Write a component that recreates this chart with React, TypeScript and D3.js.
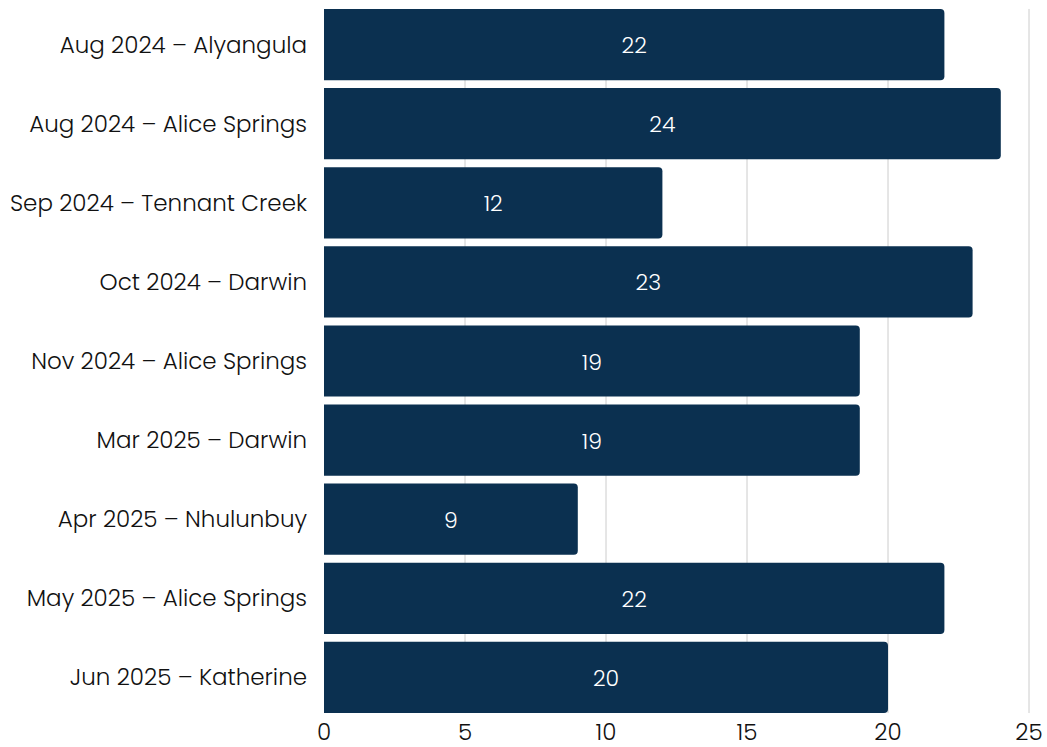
import React from "react";
import * as d3 from "d3";

const categories = [
  "Aug 2024 – Alyangula",
  "Aug 2024 – Alice Springs",
  "Sep 2024 – Tennant Creek",
  "Oct 2024 – Darwin",
  "Nov 2024 – Alice Springs",
  "Mar 2025 – Darwin",
  "Apr 2025 – Nhulunbuy",
  "May 2025 – Alice Springs",
  "Jun 2025 – Katherine",
];
const values = [22, 24, 12, 23, 19, 19, 9, 22, 20];
const xTicks = [0, 5, 10, 15, 20, 25];

const W = 1047;
const H = 747;
const FONT = "Poppins, 'Noto Sans', 'Open Sans', sans-serif";
const BAR = "#0b3050";

function barPath(x0: number, x1: number, y0: number, h: number, r: number) {
  const rr = Math.min(r, (x1 - x0) / 2, h / 2);
  return `M${x0},${y0}H${x1 - rr}A${rr},${rr} 0 0 1 ${x1},${y0 + rr}V${y0 + h - rr}A${rr},${rr} 0 0 1 ${x1 - rr},${y0 + h}H${x0}Z`;
}

export default function App() {
  const x = d3.scaleLinear().domain([0, 25]).range([324, 1029]);
  const y = d3
    .scaleBand<string>()
    .domain(categories)
    .range([5, 717])
    .paddingInner(0.1)
    .paddingOuter(0.05);
  const bw = y.bandwidth();
  const gridTop = y(categories[0])!;
  const gridBottom = y(categories[categories.length - 1])! + bw;

  return (
    <svg
      width={W}
      height={H}
      style={{ position: "absolute", left: 0, top: 0, background: "#fff" }}
      fontFamily={FONT}
    >
      {xTicks
        .filter((t) => t > 0)
        .map((t) => (
          <line
            key={"g" + t}
            x1={x(t)}
            x2={x(t)}
            y1={gridTop}
            y2={gridBottom}
            stroke="#cccccc"
            strokeWidth={1}
          />
        ))}
      {categories.map((c, i) => {
        const y0 = y(c)!;
        return (
          <g key={c}>
            <path d={barPath(x(0), x(values[i]), y0, bw, 4)} fill={BAR} />
            <text
              x={(x(0) + x(values[i])) / 2}
              y={y0 + bw / 2 + 1}
              textAnchor="middle"
              dominantBaseline="central"
              fill="#ffffff"
              fontSize={22}
              fontWeight={300}
            >
              {values[i]}
            </text>
            <text
              x={307}
              y={y0 + bw / 2}
              textAnchor="end"
              dominantBaseline="central"
              fill="#111111"
              fontSize={23}
              fontWeight={300}
            >
              {c}
            </text>
          </g>
        );
      })}
      {xTicks.map((t) => (
        <text
          key={"t" + t}
          x={x(t)}
          y={732}
          textAnchor="middle"
          dominantBaseline="central"
          fill="#111111"
          fontSize={23}
          fontWeight={300}
        >
          {t}
        </text>
      ))}
    </svg>
  );
}
